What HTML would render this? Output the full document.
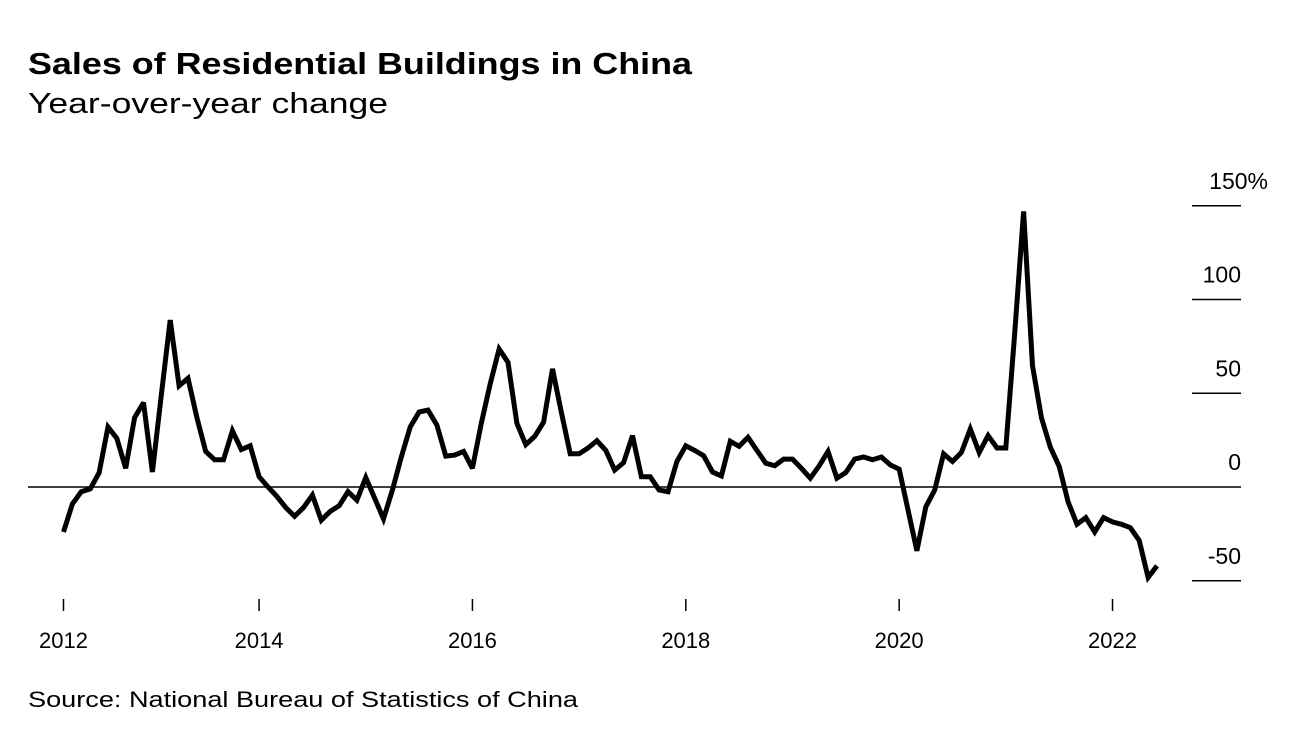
<!DOCTYPE html>
<html><head><meta charset="utf-8"><style>
html,body{margin:0;padding:0;background:#fff;}
svg{display:block;font-family:"Liberation Sans",Arial,sans-serif;}
</style></head><body>
<svg id="chart" width="1296" height="738" viewBox="0 0 1296 738" xmlns="http://www.w3.org/2000/svg">
<text x="28" y="74" font-size="31" font-weight="bold" textLength="664" lengthAdjust="spacingAndGlyphs">Sales of Residential Buildings in China</text>
<text x="28" y="113" font-size="29" textLength="360" lengthAdjust="spacingAndGlyphs">Year-over-year change</text>
<text x="28" y="707" font-size="22" textLength="550" lengthAdjust="spacingAndGlyphs">Source: National Bureau of Statistics of China</text>
<g id="yaxis"></g>
<g id="xaxis"></g>
<g id="plot"></g>
</svg>
<script>
const values = [-24,-9,-2.5,-1,7.5,32,26,10,37,45,8,49,89,54,58,37,19,14.5,14.5,30,20,22,5.5,0,
-5,-11,-15.6,-11,-4.3,-17.7,-13,-10,-2.5,-7,5,-6,-17,-1.6,16,32,40,41,33,16.5,17,19,10,34,55,73.6,
66.5,34,22.6,27,34.6,63,40,17.7,17.7,20.8,24.7,19.5,9,13,27.4,5.5,5.5,-1.6,-2.5,13.6,22,19.5,16.7,8,
5.9,24.4,21.7,26.5,19.5,12.7,11.3,14.9,14.9,10,4.7,11.3,19,4.7,7.7,14.9,16,14.5,16,11.8,9.5,-12.4,
-34,-10.6,-1.6,17.7,13.6,18.4,31,18.4,27.4,20.8,20.8,82,147,64.7,37,21.3,11,-7.9,-19.9,-16.3,-24,
-16.3,-18.6,-19.9,-21.7,-28.5,-48.2,-42];
const startYear = 2012, startMonth = 3;
const xTickDates = [[2012,3],[2014,1],[2016,1],[2018,1],[2020,1],[2022,1]];
const xTickLabels = ["2012","2014","2016","2018","2020","2022"];
const yTicks = [150,100,50,0,-50];
const yTickLabels = ["150%","100","50","0","-50"];

const NS="http://www.w3.org/2000/svg";
function X(i){return 63.5 + i*8.89;}
function monthIndex(y,m){return (y-startYear)*12 + (m-startMonth);}
function Y(v){return 487 - v*1.875;}
function mk(tag,attrs,parent){const e=document.createElementNS(NS,tag);for(const k in attrs)e.setAttribute(k,attrs[k]);parent.appendChild(e);return e;}

const ya=document.getElementById('yaxis');
yTicks.forEach((t,k)=>{
  const y=Y(t);
  const ln=mk('line',{x1:t===0?28:1192,x2:1241,y1:y,y2:y,stroke:'#000','stroke-width':t===0?1.5:1.5},ya);
  
  
  const tx=mk('text',{x:k===0?1268:1241,y:y-17,'font-size':'23','text-anchor':'end'},ya);
  tx.textContent=yTickLabels[k];
  
  
});
const xa=document.getElementById('xaxis');
xTickDates.forEach((d,k)=>{
  const x=X(monthIndex(d[0],d[1]));
  const t=mk('line',{x1:x,x2:x,y1:599,y2:611,stroke:'#000','stroke-width':1.5},xa);
  
  
  const tx=mk('text',{x:x,y:648,'font-size':'22','text-anchor':'middle'},xa);
  tx.textContent=xTickLabels[k];
  
  
});
const plot=document.getElementById('plot');
const pts=values.map((v,i)=>X(i).toFixed(1)+','+Y(v).toFixed(1)).join(' ');
const pl=mk('polyline',{points:pts,fill:'none',stroke:'#000','stroke-width':5,'stroke-linejoin':'miter','stroke-miterlimit':3},plot);


</script>
</body></html>
